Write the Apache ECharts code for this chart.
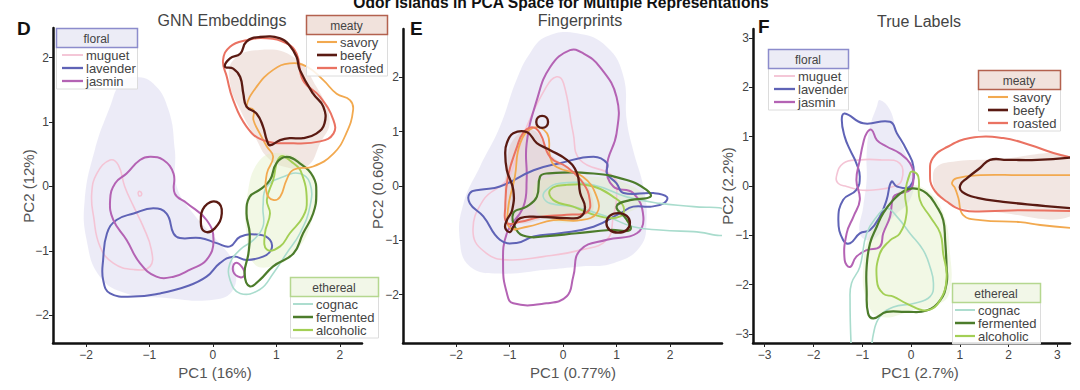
<!DOCTYPE html>
<html><head><meta charset="utf-8">
<script src="https://cdn.jsdelivr.net/npm/echarts@6/dist/echarts.min.js"></script>
<style>html,body{margin:0;padding:0;background:#fff}#c{width:1080px;height:390px}</style>
</head><body><div id="c"></div>
<script>
// ---------- tick labels ----------
const D_ticks = [-2, -1, 0, 1, 2];
const E_ticks = [-2, -1, 0, 1, 2];
const F_ticks = [-3, -2, -1, 0, 1, 2, 3];

// ---------- Panel D : GNN Embeddings ----------
const D_floralArea = [[-1.25,1.70],[-0.94,1.60],[-0.70,1.19],[-0.60,0.57],[-0.57,0.00],[-0.31,-0.42],[0.06,-0.83],[0.32,-1.19],[0.32,-1.60],[0.01,-1.76],[-0.73,-1.73],[-1.36,-1.66],[-1.78,-1.40],[-1.99,-0.83],[-2.02,-0.21],[-1.86,0.57],[-1.62,1.24],[-1.46,1.60]];
const D_meatyArea = [[0.32,1.96],[0.74,2.12],[1.27,2.01],[1.63,1.55],[1.84,1.03],[1.69,0.67],[1.48,0.31],[1.11,0.31],[0.85,0.46],[0.69,0.72],[0.43,1.19],[0.27,1.60]];
const D_etherealArea = [[0.74,0.41],[1.11,0.51],[1.48,0.31],[1.63,0.00],[1.53,-0.62],[1.27,-1.04],[0.95,-1.24],[0.64,-1.19],[0.53,-0.73],[0.53,-0.21]];
const D_muguet = [[-1.62,0.41],[-1.49,0.33],[-1.39,0.00],[-1.25,-0.31],[-1.10,-0.62],[-0.97,-0.98],[-0.99,-1.24],[-1.25,-1.29],[-1.57,-1.19],[-1.78,-0.93],[-1.88,-0.47],[-1.91,-0.11],[-1.83,0.20]];
const D_muguetDot = [[-1.17,-0.08],[-1.13,-0.09],[-1.13,-0.14],[-1.17,-0.14]];
const D_lavender = [[-1.67,-0.73],[-1.52,-0.52],[-1.25,-0.42],[-0.94,-0.34],[-0.73,-0.42],[-0.62,-0.73],[-0.52,-0.80],[-0.20,-0.80],[0.06,-0.88],[0.27,-0.93],[0.43,-0.78],[0.74,-0.75],[0.90,-0.83],[0.92,-0.98],[0.79,-1.09],[0.53,-1.14],[0.32,-1.09],[0.11,-1.19],[-0.10,-1.40],[-0.41,-1.55],[-0.83,-1.66],[-1.25,-1.71],[-1.62,-1.66],[-1.73,-1.45],[-1.73,-1.14]];
const D_jasmin = [[-0.99,0.46],[-0.78,0.41],[-0.62,0.20],[-0.60,-0.11],[-0.41,-0.26],[-0.10,-0.52],[0.01,-0.83],[-0.10,-1.14],[-0.36,-1.29],[-0.62,-1.40],[-0.89,-1.40],[-1.15,-1.19],[-1.36,-0.83],[-1.57,-0.52],[-1.62,-0.21],[-1.54,0.05],[-1.36,0.20],[-1.15,0.41]];
const D_jasminLoop = [[0.35,-1.19],[0.45,-1.24],[0.50,-1.37],[0.43,-1.41],[0.32,-1.32]];
const D_savory = [[0.53,1.24],[0.69,1.55],[0.95,1.81],[1.21,1.91],[1.48,1.86],[1.74,1.65],[1.95,1.44],[2.16,1.34],[2.21,1.19],[2.10,0.82],[1.90,0.51],[1.58,0.31],[1.27,0.26],[1.16,0.10],[1.06,-0.16],[0.95,-0.21],[0.85,-0.11],[0.85,0.20],[0.95,0.46],[0.85,0.62],[0.74,0.82],[0.64,1.03],[0.64,1.19]];
const D_beefy = [[0.19,1.86],[0.27,1.99],[0.43,2.06],[0.53,2.25],[0.74,2.32],[1.06,2.30],[1.21,2.19],[1.32,2.01],[1.37,1.81],[1.58,1.44],[1.74,1.24],[1.76,0.98],[1.63,0.82],[1.42,0.75],[1.21,0.75],[1.06,0.72],[0.90,0.64],[0.85,0.72],[0.79,0.93],[0.69,1.13],[0.53,1.24],[0.48,1.44],[0.43,1.70],[0.32,1.83]];
const D_beefyLoop = [[0.06,-0.24],[0.14,-0.42],[0.03,-0.65],[-0.13,-0.70],[-0.19,-0.55],[-0.13,-0.31]];
const D_roasted = [[0.16,1.96],[0.27,2.17],[0.53,2.27],[0.85,2.30],[1.16,2.22],[1.32,2.06],[1.42,1.65],[1.69,1.39],[1.90,1.03],[1.90,0.82],[1.69,0.70],[1.27,0.67],[0.79,0.72],[0.53,0.93],[0.32,1.34],[0.22,1.70]];
const D_cognac = [[0.85,0.00],[1.11,0.15],[1.37,0.20],[1.53,0.05],[1.53,-0.31],[1.37,-0.73],[1.16,-1.04],[0.95,-1.35],[0.74,-1.60],[0.43,-1.66],[0.27,-1.45],[0.27,-1.19],[0.43,-0.98],[0.64,-0.83],[0.79,-0.62],[0.79,-0.31]];
const D_fermented = [[1.00,0.36],[1.16,0.46],[1.37,0.36],[1.58,0.15],[1.63,-0.11],[1.58,-0.42],[1.42,-0.73],[1.27,-1.04],[0.95,-1.24],[0.74,-1.45],[0.58,-1.55],[0.50,-1.35],[0.56,-1.04],[0.58,-0.73],[0.53,-0.42],[0.58,-0.16],[0.74,-0.05],[0.90,0.10]];
const D_alcoholic = [[1.06,0.46],[1.27,0.36],[1.40,0.20],[1.48,-0.21],[1.42,-0.47],[1.21,-0.73],[1.06,-0.93],[0.85,-0.98],[0.82,-0.73],[0.90,-0.42],[0.85,-0.21],[0.95,0.10]];

// ---------- Panel E : Fingerprints ----------
const E_floralArea = [[-0.31,2.75],[0.26,2.81],[0.82,2.56],[1.13,2.01],[1.19,1.21],[1.31,0.66],[1.50,-0.01],[1.56,-0.62],[1.44,-1.12],[0.94,-1.42],[0.32,-1.48],[-0.31,-1.54],[-1.18,-1.61],[-1.74,-1.48],[-1.93,-0.99],[-1.86,-0.32],[-1.55,0.36],[-1.18,1.09],[-0.87,1.95],[-0.62,2.44]];
const E_meatyArea = [[-0.93,0.85],[-0.56,1.03],[-0.24,0.59],[0.37,0.11],[0.56,-0.26],[0.50,-0.50],[-0.24,-0.59],[-0.93,-0.66],[-1.08,-0.26],[-1.05,0.35]];
const E_etherealArea = [[-0.43,0.11],[0.57,0.17],[1.31,-0.01],[1.50,-0.26],[1.19,-0.50],[0.57,-0.62],[-0.31,-0.62],[-0.55,-0.26]];
const E_muguet = [[-0.12,2.01],[0.01,1.89],[0.19,0.97],[0.32,0.48],[0.94,0.17],[1.00,-0.20],[0.94,-0.56],[0.82,-0.99],[0.32,-1.18],[-0.37,-1.30],[-1.05,-1.36],[-1.43,-1.24],[-1.68,-0.87],[-1.49,-0.26],[-1.05,0.11],[-0.87,0.54],[-0.68,1.09],[-0.31,1.83]];
const E_lavender = [[-1.74,-0.13],[-1.55,-0.07],[-1.18,-0.01],[-0.55,0.29],[-0.06,0.42],[0.57,0.54],[0.82,0.42],[0.82,0.23],[1.00,0.05],[1.13,-0.13],[1.69,-0.13],[1.94,-0.20],[1.88,-0.32],[1.63,-0.38],[1.31,-0.38],[1.07,-0.50],[0.57,-0.75],[-0.06,-0.87],[-0.55,-0.93],[-0.87,-1.05],[-1.18,-0.99],[-1.49,-0.56],[-1.74,-0.32]];
const E_jasmin = [[0.13,2.50],[0.38,2.44],[0.69,2.19],[1.00,1.64],[1.00,0.97],[0.82,0.36],[0.94,-0.01],[1.31,-0.13],[1.50,-0.56],[1.38,-0.87],[0.82,-0.99],[0.32,-1.18],[0.19,-1.67],[0.07,-2.03],[-0.31,-2.16],[-0.93,-2.16],[-1.05,-1.97],[-1.12,-1.48],[-1.05,-0.87],[-0.74,-0.38],[-0.68,0.11],[-0.68,0.78],[-0.49,1.58],[-0.24,2.19]];
const E_savory = [[-0.56,1.07],[-0.30,0.97],[-0.24,0.53],[-0.12,0.35],[0.37,0.17],[0.63,-0.20],[0.63,-0.50],[0.32,-0.63],[-0.18,-0.63],[-0.67,-0.75],[-0.99,-0.77],[-1.03,-0.44],[-0.90,0.17],[-0.80,0.79]];
const E_beefy = [[-1.05,0.79],[-0.93,0.97],[-0.67,0.99],[-0.49,0.79],[-0.24,0.66],[0.07,0.48],[0.26,0.24],[0.32,-0.13],[0.41,-0.39],[0.32,-0.57],[0.07,-0.59],[-0.43,-0.57],[-0.80,-0.59],[-0.93,-0.75],[-0.99,-0.85],[-1.08,-0.77],[-1.05,-0.63],[-0.95,-0.44],[-0.93,-0.07],[-1.05,0.29],[-1.08,0.61]];
const E_beefyLoop1 = [[-0.39,1.29],[-0.31,1.26],[-0.28,1.18],[-0.31,1.10],[-0.39,1.07],[-0.47,1.10],[-0.50,1.18],[-0.47,1.26]];
const E_beefyLoop2 = [[1.03,-0.50],[1.19,-0.55],[1.25,-0.68],[1.19,-0.81],[1.03,-0.86],[0.87,-0.81],[0.81,-0.68],[0.87,-0.55]];
const E_roasted = [[-0.58,1.08],[-0.43,0.97],[-0.24,0.53],[0.07,0.35],[0.37,0.06],[0.50,-0.26],[0.45,-0.48],[0.07,-0.53],[-0.43,-0.57],[-0.80,-0.66],[-1.05,-0.68],[-1.08,-0.39],[-1.03,0.17],[-0.86,0.72],[-0.75,0.97]];
const E_cognac = [[-0.31,-0.07],[-0.06,0.05],[0.57,0.02],[1.19,-0.20],[1.81,-0.32],[2.44,-0.38],[3.10,-0.48],[3.10,-0.87],[2.44,-0.84],[1.81,-0.81],[1.31,-0.75],[0.82,-0.56],[0.19,-0.38],[-0.24,-0.32],[-0.37,-0.20]];
const E_fermented = [[-0.43,0.17],[-0.31,0.23],[0.57,0.23],[1.19,0.11],[1.56,-0.07],[1.63,-0.20],[1.25,-0.26],[1.00,-0.38],[1.19,-0.62],[1.25,-0.81],[0.88,-0.81],[0.26,-0.87],[-0.37,-0.93],[-0.68,-0.93],[-0.87,-0.81],[-0.93,-0.50],[-0.68,-0.38],[-0.49,-0.20]];
const E_alcoholic = [[-0.24,-0.07],[0.07,0.02],[0.57,-0.01],[0.94,-0.20],[1.13,-0.38],[1.07,-0.56],[0.69,-0.56],[0.19,-0.38],[-0.18,-0.26]];

// ---------- Panel F : True Labels ----------
const F_floralArea = [[-0.64,1.74],[-0.43,1.54],[-0.29,1.07],[-0.09,0.60],[0.05,0.19],[-0.02,-0.28],[-0.36,-0.62],[-0.64,-0.96],[-0.84,-1.10],[-1.05,-0.96],[-0.98,-0.42],[-0.91,0.12],[-0.91,0.66],[-0.84,1.20],[-0.70,1.61]];
const F_meatyArea = [[0.53,0.39],[0.86,0.49],[1.56,0.53],[3.40,0.53],[3.40,-0.55],[1.56,-0.51],[0.86,-0.39],[0.53,-0.12],[0.45,0.16]];
const F_etherealArea = [[-0.09,-0.01],[0.32,-0.08],[0.66,-0.55],[0.80,-1.37],[0.80,-2.11],[0.60,-2.38],[0.05,-2.52],[-0.64,-2.65],[-0.91,-2.31],[-0.98,-1.64],[-0.84,-0.96],[-0.50,-0.42]];
const F_muguet = [[-1.53,0.19],[-1.39,0.46],[-1.05,0.53],[-0.64,0.53],[-0.23,0.46],[-0.19,0.12],[-0.36,-0.01],[-0.77,-0.08],[-1.05,-0.08],[-1.32,-0.01],[-1.49,0.05]];
const F_lavender = [[-1.36,1.47],[-0.98,1.27],[-0.43,1.30],[-0.29,1.07],[-0.09,0.73],[0.05,0.39],[-0.02,-0.01],[-0.29,-0.01],[-0.40,0.09],[-0.50,-0.28],[-0.64,-0.62],[-0.84,-0.89],[-1.05,-0.96],[-1.25,-1.16],[-1.39,-1.10],[-1.49,-0.69],[-1.39,-0.28],[-1.12,-0.08],[-1.05,0.19],[-1.12,0.46],[-1.25,0.73],[-1.36,1.00],[-1.42,1.34]];
const F_jasmin = [[-0.91,1.07],[-0.81,1.14],[-0.70,0.93],[-0.50,0.80],[-0.23,0.66],[-0.02,0.46],[0.05,0.19],[-0.02,-0.08],[-0.23,-0.15],[-0.36,-0.22],[-0.43,-0.62],[-0.57,-0.96],[-0.64,-1.23],[-0.91,-1.30],[-1.12,-1.43],[-1.25,-1.64],[-1.36,-1.50],[-1.32,-0.96],[-1.18,-0.62],[-1.05,-0.28],[-1.12,0.12],[-1.05,0.53],[-0.98,0.87]];
const F_savory = [[3.40,0.22],[2.24,0.22],[1.42,0.22],[0.94,0.16],[0.84,0.06],[0.90,-0.04],[0.97,-0.24],[1.07,-0.59],[1.42,-0.69],[2.24,-0.73],[2.65,-0.79],[3.40,-0.86]];
const F_beefy = [[3.40,0.59],[2.59,0.53],[1.97,0.53],[1.62,0.53],[1.42,0.37],[1.15,0.16],[1.01,0.02],[1.05,-0.12],[1.36,-0.24],[1.89,-0.32],[2.59,-0.39],[3.40,-0.46]];
const F_roasted = [[3.40,0.55],[2.92,0.67],[2.44,0.83],[1.89,0.97],[1.21,0.97],[0.74,0.79],[0.45,0.57],[0.39,0.28],[0.45,-0.04],[0.74,-0.32],[1.07,-0.49],[1.56,-0.51],[2.24,-0.49],[3.40,-0.51]];
const F_cognac = [[-1.22,-3.40],[-1.25,-2.31],[-1.22,-1.97],[-1.05,-1.64],[-0.91,-0.96],[-0.70,-0.62],[-0.50,-0.45],[-0.29,-0.62],[-0.02,-0.96],[0.25,-1.30],[0.39,-1.64],[0.46,-1.97],[0.39,-2.24],[0.05,-2.38],[-0.36,-2.45],[-0.64,-2.65],[-0.77,-2.99],[-0.81,-3.40]];
const F_fermented = [[0.05,-0.05],[0.32,-0.15],[0.53,-0.42],[0.66,-0.69],[0.70,-1.10],[0.73,-1.64],[0.73,-1.97],[0.60,-2.31],[0.32,-2.52],[-0.09,-2.55],[-0.50,-2.55],[-0.77,-2.68],[-0.88,-2.58],[-0.91,-2.11],[-0.91,-1.64],[-0.84,-1.16],[-0.70,-0.82],[-0.57,-0.55],[-0.36,-0.28],[-0.16,-0.11]];
const F_alcoholic = [[0.05,0.29],[0.15,0.19],[0.18,-0.28],[0.39,-0.62],[0.60,-0.96],[0.66,-1.37],[0.73,-1.84],[0.60,-2.31],[0.32,-2.52],[-0.09,-2.38],[-0.36,-2.24],[-0.57,-2.18],[-0.70,-1.91],[-0.64,-1.37],[-0.43,-1.10],[-0.23,-0.96],[-0.09,-0.55],[-0.12,-0.15],[-0.02,0.26]];

// ---------- styles ----------
const COL = {
  muguet:'#f4c4d5', lavender:'#5f63b6', jasmin:'#b463b4',
  savory:'#f2a94f', beefy:'#5a1a12', roasted:'#ea7262',
  cognac:'#a9dccd', fermented:'#4c7c2b', alcoholic:'#a3cf55'
};
const FILL = { floral:'rgba(205,203,235,0.38)', meaty:'rgba(222,190,180,0.38)', ethereal:'rgba(222,238,190,0.40)' };
const W = { muguet:1.6, lavender:2, jasmin:2, savory:1.8, beefy:2.3, roasted:2, cognac:1.6, fermented:2.2, alcoholic:1.9 };

const FONT = 'Liberation Sans, Arial, Helvetica, sans-serif';

function shape(g, pts, opt) {
  return {
    type: 'custom', coordinateSystem: 'cartesian2d', xAxisIndex: g, yAxisIndex: g,
    clip: true, silent: true, z: opt.z || 2, animation: false,
    data: pts, encode: { x: 0, y: 1 },
    renderItem: function (params, api) {
      if (params.dataIndex !== 0) return null;
      const p = pts.map(function (d) { return api.coord(d); });
      return {
        type: opt.open ? 'polyline' : 'polygon',
        shape: { points: p, smooth: 0.45 },
        style: opt.fill ? { fill: opt.fill, stroke: 'none' } : { fill: 'none', stroke: opt.stroke, lineWidth: opt.w }
      };
    }
  };
}
function line(g, pts, name, open) { return shape(g, pts, { stroke: COL[name], w: W[name], open: open, z: 3 }); }
function area(g, pts, group) { return shape(g, pts, { fill: FILL[group], z: 1 }); }

const series = [
  area(0, D_floralArea, 'floral'), area(0, D_meatyArea, 'meaty'), area(0, D_etherealArea, 'ethereal'),
  line(0, D_muguet, 'muguet'), line(0, D_muguetDot, 'muguet'), line(0, D_lavender, 'lavender'), line(0, D_jasmin, 'jasmin'), line(0, D_jasminLoop, 'jasmin'),
  line(0, D_cognac, 'cognac'), line(0, D_alcoholic, 'alcoholic'), line(0, D_fermented, 'fermented'),
  line(0, D_savory, 'savory'), line(0, D_roasted, 'roasted'), line(0, D_beefy, 'beefy'), line(0, D_beefyLoop, 'beefy'),

  area(1, E_floralArea, 'floral'), area(1, E_meatyArea, 'meaty'), area(1, E_etherealArea, 'ethereal'),
  line(1, E_muguet, 'muguet'), line(1, E_jasmin, 'jasmin'), line(1, E_lavender, 'lavender'),
  line(1, E_cognac, 'cognac'), line(1, E_alcoholic, 'alcoholic'), line(1, E_fermented, 'fermented'),
  line(1, E_savory, 'savory'), line(1, E_roasted, 'roasted'), line(1, E_beefy, 'beefy'), line(1, E_beefyLoop1, 'beefy'), line(1, E_beefyLoop2, 'beefy'),

  area(2, F_floralArea, 'floral'), area(2, F_meatyArea, 'meaty'), area(2, F_etherealArea, 'ethereal'),
  line(2, F_muguet, 'muguet'), line(2, F_lavender, 'lavender'), line(2, F_jasmin, 'jasmin'),
  line(2, F_cognac, 'cognac', true), line(2, F_fermented, 'fermented'), line(2, F_alcoholic, 'alcoholic'),
  line(2, F_savory, 'savory', true), line(2, F_roasted, 'roasted', true), line(2, F_beefy, 'beefy', true)
];

function fmt(v) { return (v < 0 ? '\u2212' : '') + Math.abs(v); }
function axis(type, idx, min, max, ticks) {
  return {
    type: 'value', gridIndex: idx, min: min, max: max, scale: true,
    splitLine: { show: false },
    axisLine: { show: true, onZero: false, lineStyle: { color: '#111', width: 2.5 } },
    axisTick: { show: true, length: 4, lineStyle: { color: '#222', width: 1 }, customValues: ticks },
    axisLabel: { show: true, customValues: ticks, formatter: fmt, color: '#444', fontSize: 12, fontFamily: FONT, margin: type === 'x' ? 6 : 4 }
  };
}

// ---------- legends (graphic) ----------
const graphics = [];
function txt(x, y, s, o) {
  o = o || {};
  graphics.push({ type: 'text', x: x, y: y, rotation: o.rot || 0, z: 20,
    style: { text: s, font: (o.weight || 'normal') + ' ' + (o.size || 13) + 'px ' + FONT, fill: o.color || '#444',
      textAlign: o.align || 'left', textVerticalAlign: 'middle' } });
}
function legend(left, top, w, title, names, kind, lx0, lx1, tx) {
  const tH = 19, step = 13;
  const border = { floral: '#8c8ccc', meaty: '#b3614e', ethereal: '#b5d78f' }[kind];
  const bg = { floral: '#ececf6', meaty: '#f1e2dc', ethereal: '#f2f7e8' }[kind];
  const bottom = top + tH + 8 + (names.length - 1) * step + 8;
  graphics.push({ type: 'rect', z: 15, shape: { x: left + 0.5, y: top + tH, width: w, height: bottom - top - tH },
    style: { fill: 'rgba(255,255,255,0.85)', stroke: '#dcdcdc', lineWidth: 1 } });
  graphics.push({ type: 'rect', z: 16, shape: { x: left + 0.5, y: top + 0.5, width: w, height: tH },
    style: { fill: bg, stroke: border, lineWidth: 1.5 } });
  txt(left + w / 2, top + tH / 2 + 1, title, { align: 'center', size: 12 });
  names.forEach(function (n, i) {
    const y = top + tH + 8 + i * step;
    graphics.push({ type: 'line', z: 18, shape: { x1: left + lx0, y1: y, x2: left + lx1, y2: y },
      style: { stroke: COL[n], lineWidth: W[n] + 0.3 } });
    txt(left + tx, y, n, { size: 13 });
  });
}
legend(56, 28, 81, 'floral', ['muguet', 'lavender', 'jasmin'], 'floral', 6, 27, 30);
legend(306, 15, 81, 'meaty', ['savory', 'beefy', 'roasted'], 'meaty', 11, 31, 34);
legend(290, 277, 88, 'ethereal', ['cognac', 'fermented', 'alcoholic'], 'ethereal', 3, 23, 26);
legend(768, 49, 80, 'floral', ['muguet', 'lavender', 'jasmin'], 'floral', 6, 27, 30);
legend(978, 70, 82, 'meaty', ['savory', 'beefy', 'roasted'], 'meaty', 10, 30, 35);
legend(952, 283, 88, 'ethereal', ['cognac', 'fermented', 'alcoholic'], 'ethereal', 3, 23, 26);

// titles and axis names
txt(561, 2.5, 'Odor Islands in PCA Space for Multiple Representations', { align: 'center', size: 15.6, weight: 'bold', color: '#111' });
txt(17, 28, 'D', { size: 19, weight: 'bold', color: '#111' });
txt(410, 28, 'E', { size: 19, weight: 'bold', color: '#111' });
txt(758, 26, 'F', { size: 19, weight: 'bold', color: '#111' });
txt(222, 20, 'GNN Embeddings', { align: 'center', size: 16 });
txt(580, 20, 'Fingerprints', { align: 'center', size: 16 });
txt(919, 21, 'True Labels', { align: 'center', size: 16 });
txt(215, 372, 'PC1 (16%)', { align: 'center', size: 15, color: '#555' });
txt(573, 372, 'PC1 (0.77%)', { align: 'center', size: 15, color: '#555' });
txt(920, 372, 'PC1 (2.7%)', { align: 'center', size: 15, color: '#555' });
txt(28, 186, 'PC2 (12%)', { align: 'center', size: 15, color: '#555', rot: Math.PI / 2 });
txt(377, 186, 'PC2 (0.60%)', { align: 'center', size: 15, color: '#555', rot: Math.PI / 2 });
txt(727, 186, 'PC2 (2.2%)', { align: 'center', size: 15, color: '#555', rot: Math.PI / 2 });

const chart = echarts.init(document.getElementById('c'), null, { renderer: 'svg' });
chart.setOption({
  animation: false,
  backgroundColor: '#fff',
  grid: [
    { left: 53, top: 28, width: 309, height: 315 },
    { left: 403, top: 29, width: 319, height: 314 },
    { left: 753, top: 29, width: 317, height: 314 }
  ],
  xAxis: [axis('x', 0, -2.52, 2.35, D_ticks), axis('x', 1, -2.99, 2.97, E_ticks), axis('x', 2, -3.24, 3.26, F_ticks)],
  yAxis: [axis('y', 0, -2.43, 2.46, D_ticks), axis('y', 1, -2.89, 2.89, E_ticks), axis('y', 2, -3.18, 3.18, F_ticks)],
  series: series,
  graphic: graphics
});
</script>
</body></html>
